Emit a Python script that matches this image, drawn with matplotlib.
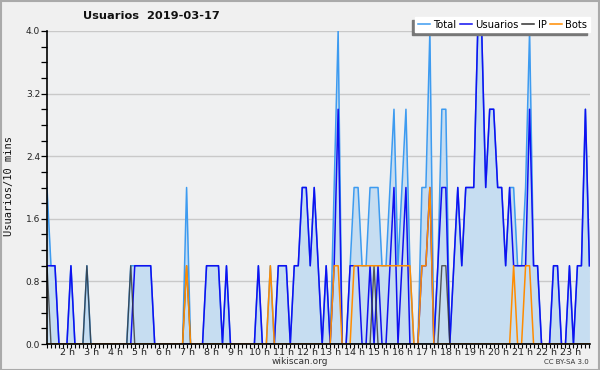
import numpy as np
import matplotlib
matplotlib.use("Agg")
import matplotlib.pyplot as plt
from matplotlib.lines import Line2D
from matplotlib.patches import Rectangle

# ── data: one value per 10-minute slot ───────────────────────────────────────
start_h = 1.133  # first slot on the axis (hours)

total = [2, 1, 1, 0, 0, 0, 1, 0, 0, 0,
         1, 0, 0, 0, 0, 0, 0, 0, 0, 0,
         0, 1, 1, 1, 1, 1, 1, 0, 0, 0,
         0, 0, 0, 0, 0, 2, 0, 0, 0, 0,
         1, 1, 1, 1, 0, 1, 0, 0, 0, 0,
         0, 0, 0, 1, 0, 0, 1, 0, 1, 1,
         1, 0, 1, 1, 2, 2, 1, 2, 1, 0,
         1, 0, 2, 4, 0, 0, 1, 2, 2, 1,
         1, 2, 2, 2, 1, 1, 2, 3, 1, 2,
         3, 1, 0, 0, 2, 2, 4, 0, 1, 3,
         3, 0, 1, 2, 1, 2, 2, 2, 4, 4,
         2, 3, 3, 2, 2, 1, 2, 2, 1, 1,
         2, 4, 1, 1, 0, 0, 0, 1, 1, 0,
         0, 1, 0, 1, 1, 3, 1]

usuarios = [1, 1, 1, 0, 0, 0, 1, 0, 0, 0,
            0, 0, 0, 0, 0, 0, 0, 0, 0, 0,
            0, 0, 1, 1, 1, 1, 1, 0, 0, 0,
            0, 0, 0, 0, 0, 0, 0, 0, 0, 0,
            1, 1, 1, 1, 0, 1, 0, 0, 0, 0,
            0, 0, 0, 1, 0, 0, 0, 0, 1, 1,
            1, 0, 1, 1, 2, 2, 1, 2, 1, 0,
            1, 0, 1, 3, 0, 0, 1, 1, 1, 0,
            0, 1, 0, 1, 0, 0, 1, 2, 0, 1,
            2, 0, 0, 0, 1, 1, 2, 0, 1, 2,
            2, 0, 1, 2, 1, 2, 2, 2, 4, 4,
            2, 3, 3, 2, 2, 1, 2, 1, 1, 1,
            1, 3, 1, 1, 0, 0, 0, 1, 1, 0,
            0, 1, 0, 1, 1, 3, 1]

ip = [1, 0, 0, 0, 0, 0, 0, 0, 0, 0,
      1, 0, 0, 0, 0, 0, 0, 0, 0, 0,
      0, 1, 0, 0, 0, 0, 0, 0, 0, 0,
      0, 0, 0, 0, 0, 1, 0, 0, 0, 0,
      0, 0, 0, 0, 0, 0, 0, 0, 0, 0,
      0, 0, 0, 0, 0, 0, 0, 0, 0, 0,
      0, 0, 0, 0, 0, 0, 0, 0, 0, 0,
      0, 0, 0, 0, 0, 0, 0, 0, 0, 0,
      0, 0, 1, 0, 0, 0, 0, 0, 0, 0,
      0, 0, 0, 0, 0, 0, 0, 0, 0, 1,
      1, 0, 0, 0, 0, 0, 0, 0, 0, 0,
      0, 0, 0, 0, 0, 0, 0, 0, 0, 0,
      0, 0, 0, 0, 0, 0, 0, 0, 0, 0,
      0, 0, 0, 0, 0, 0, 0]

bots = [0, 0, 0, 0, 0, 0, 0, 0, 0, 0,
        0, 0, 0, 0, 0, 0, 0, 0, 0, 0,
        0, 0, 0, 0, 0, 0, 0, 0, 0, 0,
        0, 0, 0, 0, 0, 1, 0, 0, 0, 0,
        0, 0, 0, 0, 0, 0, 0, 0, 0, 0,
        0, 0, 0, 0, 0, 0, 1, 0, 0, 0,
        0, 0, 0, 0, 0, 0, 0, 0, 0, 0,
        0, 0, 1, 1, 0, 0, 0, 1, 1, 1,
        1, 1, 1, 1, 1, 1, 1, 1, 1, 1,
        1, 1, 0, 0, 1, 1, 2, 0, 0, 0,
        0, 0, 0, 0, 0, 0, 0, 0, 0, 0,
        0, 0, 0, 0, 0, 0, 0, 1, 0, 0,
        1, 1, 0, 0, 0, 0, 0, 0, 0, 0,
        0, 0, 0, 0, 0, 0, 0]

hours = list(range(2, 24))
hour_labels = [f"{h} h" for h in hours]
y_ticks = [0.0, 0.8, 1.6, 2.4, 3.2, 4.0]

# ── style ────────────────────────────────────────────────────────────────────
C_FILL = "#c6ddf1"
C_TOTAL = "#3d9bf0"
C_USERS = "#1010f0"
C_IP = "#333333"
C_BOTS = "#ff8c00"
C_BG = "#eff0f1"

t = start_h + np.arange(len(total)) / 6.0

fig = plt.figure(figsize=(6, 3.7), dpi=100)
fig.patch.set_facecolor("#f0f0f0")
ax = fig.add_axes([47 / 600, 1 - 344 / 370, 543 / 600, 313 / 370])
ax.set_facecolor(C_BG)

ax.fill_between(t, total, 0, color=C_FILL, lw=0, zorder=1)
ax.plot(t, total, color=C_TOTAL, lw=1.1, zorder=3)
ax.plot(t, usuarios, color=C_USERS, lw=1.1, zorder=4)
ax.plot(t, ip, color=C_IP, lw=1.0, alpha=0.8, zorder=5)
ax.plot(t, bots, color=C_BOTS, lw=1.1, zorder=6)

ax.set_xlim(start_h + 0.4 / 6, start_h + 136.15 / 6)
ax.set_ylim(0, 4.0)

# axes, ticks, grid
for s in ("top", "right"):
    ax.spines[s].set_visible(False)
for s in ("left", "bottom"):
    ax.spines[s].set_linewidth(1.2)
    ax.spines[s].set_zorder(7)

ax.set_yticks(y_ticks)
ax.set_yticklabels([f"{v:.1f}" for v in y_ticks], fontsize=6.5, color="#222222")
ax.set_yticks(np.arange(0, 4.01, 0.2), minor=True)
ax.tick_params(axis="y", which="both", direction="out", length=4, width=0.9, pad=1)
ax.yaxis.grid(True, color="#c9c9c9", lw=1.0, zorder=0)
ax.set_axisbelow(True)

ax.set_xticks(hours)
ax.set_xticklabels(hour_labels, fontsize=6.8, color="#222222")
ax.set_xticks(t, minor=True)
ax.tick_params(axis="x", which="major", length=0, pad=3)
ax.tick_params(axis="x", which="minor", direction="out", length=3, width=0.8)

# ── texts ────────────────────────────────────────────────────────────────────
fig.text(151 / 600, 1 - 16 / 370, "Usuarios  2019-03-17", ha="center", va="center",
         fontsize=8.2, fontweight="bold", color="#111111")
fig.text(9 / 600, 1 - 186 / 370, "Usuarios/10 mins", rotation=90, ha="center",
         va="center", fontsize=7.5, family="DejaVu Sans Mono", color="#111111")
fig.text(300 / 600, 1 - 361 / 370, "wikiscan.org", ha="center", va="center",
         fontsize=6.5, color="#333333")
fig.text(589 / 600, 1 - 362 / 370, "CC BY-SA 3.0", ha="right", va="center",
         fontsize=5, color="#333333")

# ── legend ───────────────────────────────────────────────────────────────────
handles = [Line2D([0], [0], color=C_TOTAL, lw=1.1, label="Total"),
           Line2D([0], [0], color=C_USERS, lw=1.1, label="Usuarios"),
           Line2D([0], [0], color=C_IP, lw=1.1, label="IP"),
           Line2D([0], [0], color=C_BOTS, lw=1.1, label="Bots")]
leg = fig.legend(handles=handles, loc="upper right",
                 bbox_to_anchor=(590 / 600, 1 - 17 / 370), ncol=4,
                 fontsize=7.2, frameon=True, fancybox=False, framealpha=1,
                 facecolor="white", edgecolor="white",
                 handlelength=1.2, handletextpad=0.35, columnspacing=0.35,
                 borderpad=0.25, borderaxespad=0,
                 shadow={"ox": -2.2, "oy": -2.2, "facecolor": "#777777",
                         "edgecolor": "#777777", "alpha": 1})

# outer border
fig.patches.append(Rectangle((0.001, 0.001), 0.998, 0.997, transform=fig.transFigure,
                             fill=False, edgecolor="#aaaaaa", lw=1.5))

fig.savefig("out.png", dpi=100, facecolor=fig.get_facecolor())
